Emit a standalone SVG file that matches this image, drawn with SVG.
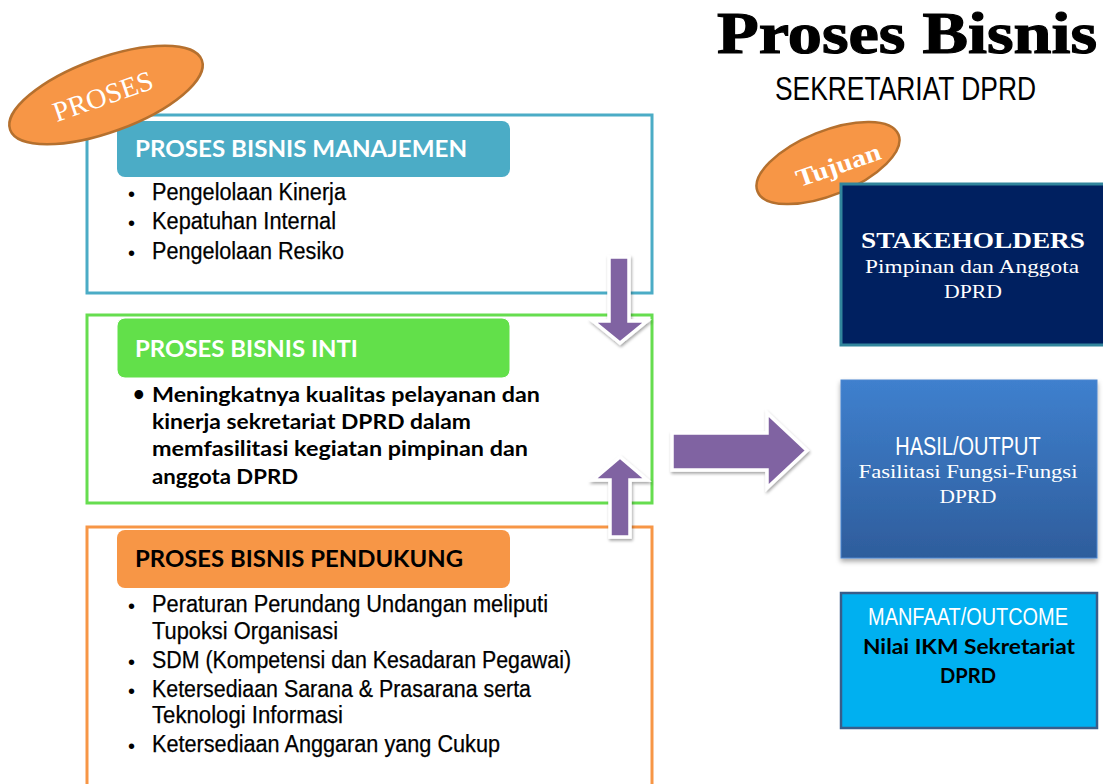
<svg xmlns="http://www.w3.org/2000/svg" width="1103" height="784" viewBox="0 0 1103 784">
  <defs>
    <style>
      .frame { fill: #ffffff; stroke-width: 3; }
      .hdr-txt { font-family: Lato, "Liberation Sans", sans-serif; font-weight: 700; font-size: 22px; }
      .item { font-family: "Liberation Sans", Arial, sans-serif; font-size: 23px; fill: #000000; stroke: #000000; stroke-width: 0.25; }
      .dot { font-family: "Liberation Sans", Arial, sans-serif; font-size: 20px; fill: #000000; }
      .core { font-family: Lato, "Liberation Sans", sans-serif; font-weight: 700; font-size: 20px; fill: #000000; }
      .serif { font-family: "Liberation Serif", "Times New Roman", serif; }
      .cond { font-family: "Liberation Sans", Arial, sans-serif; }
      .arrow { fill: #8064A2; stroke: #ffffff; stroke-width: 3.5; stroke-linejoin: miter; filter: url(#shadow); }
      .tag { fill: #F79646; stroke: #B5702E; stroke-width: 2.5; }
    </style>
    <filter id="shadow" x="-30%" y="-30%" width="160%" height="160%">
      <feDropShadow dx="1" dy="2" stdDeviation="1.6" flood-color="#000000" flood-opacity="0.35"/>
    </filter>
    <filter id="boxShadow" x="-10%" y="-10%" width="120%" height="125%">
      <feDropShadow dx="0" dy="3" stdDeviation="2.5" flood-color="#000000" flood-opacity="0.35"/>
    </filter>
    <linearGradient id="blueGrad" x1="0" y1="0" x2="0" y2="1">
      <stop offset="0" stop-color="#3F80CE"/>
      <stop offset="1" stop-color="#2E5D9C"/>
    </linearGradient>
  </defs>

  <rect width="1103" height="784" fill="#ffffff"/>

  <!-- Title -->
  <g id="title">
    <text class="serif" x="717" y="53" font-size="60" font-weight="700" stroke="#000" stroke-width="1.2" textLength="380" lengthAdjust="spacingAndGlyphs">Proses Bisnis</text>
    <text class="cond" font-size="33" transform="translate(775 100) scale(0.8 1)">SEKRETARIAT DPRD</text>
  </g>

  <!-- Management processes -->
  <g id="proses-manajemen">
    <rect class="frame" x="87" y="115" width="565" height="178" stroke="#4BACC6"/>
    <rect x="117" y="121" width="393" height="56" rx="8" fill="#4BACC6"/>
    <text class="hdr-txt" x="135" y="157" fill="#ffffff" textLength="332" lengthAdjust="spacingAndGlyphs">PROSES BISNIS MANAJEMEN</text>
    <text class="dot" x="128" y="201">•</text>
    <text class="item" x="152" y="200" textLength="194" lengthAdjust="spacingAndGlyphs">Pengelolaan Kinerja</text>
    <text class="dot" x="128" y="230">•</text>
    <text class="item" x="152" y="229" textLength="184" lengthAdjust="spacingAndGlyphs">Kepatuhan Internal</text>
    <text class="dot" x="128" y="260">•</text>
    <text class="item" x="152" y="259" textLength="192" lengthAdjust="spacingAndGlyphs">Pengelolaan Resiko</text>
  </g>

  <!-- Core processes -->
  <g id="proses-inti">
    <rect class="frame" x="87" y="315" width="565" height="188" stroke="#66DD4F"/>
    <rect x="117" y="318" width="393" height="60" rx="8" fill="#62E04A" stroke="#ffffff" stroke-width="1"/>
    <text class="hdr-txt" x="135" y="357" fill="#ffffff" textLength="223" lengthAdjust="spacingAndGlyphs">PROSES BISNIS INTI</text>
    <text class="core" x="133" y="401" font-size="18">•</text>
    <text class="core" x="152" y="402" textLength="388" lengthAdjust="spacingAndGlyphs">Meningkatnya kualitas pelayanan dan</text>
    <text class="core" x="152" y="429" textLength="319" lengthAdjust="spacingAndGlyphs">kinerja sekretariat DPRD dalam</text>
    <text class="core" x="152" y="456" textLength="376" lengthAdjust="spacingAndGlyphs">memfasilitasi kegiatan pimpinan dan</text>
    <text class="core" x="152" y="484" textLength="146" lengthAdjust="spacingAndGlyphs">anggota DPRD</text>
  </g>

  <!-- Supporting processes -->
  <g id="proses-pendukung">
    <rect class="frame" x="87" y="527" width="565" height="275" stroke="#F79646"/>
    <rect x="117" y="530" width="393" height="58" rx="8" fill="#F79646"/>
    <text class="hdr-txt" x="135" y="567" fill="#000000" textLength="328" lengthAdjust="spacingAndGlyphs">PROSES BISNIS PENDUKUNG</text>
    <text class="dot" x="128" y="613">•</text>
    <text class="item" x="152" y="612" textLength="396" lengthAdjust="spacingAndGlyphs">Peraturan Perundang Undangan meliputi</text>
    <text class="item" x="152" y="639" textLength="186" lengthAdjust="spacingAndGlyphs">Tupoksi Organisasi</text>
    <text class="dot" x="128" y="669">•</text>
    <text class="item" x="152" y="668" textLength="419" lengthAdjust="spacingAndGlyphs">SDM (Kompetensi dan Kesadaran Pegawai)</text>
    <text class="dot" x="128" y="698">•</text>
    <text class="item" x="152" y="697" textLength="379" lengthAdjust="spacingAndGlyphs">Ketersediaan Sarana &amp; Prasarana serta</text>
    <text class="item" x="152" y="723" textLength="191" lengthAdjust="spacingAndGlyphs">Teknologi Informasi</text>
    <text class="dot" x="128" y="753">•</text>
    <text class="item" x="152" y="752" textLength="348" lengthAdjust="spacingAndGlyphs">Ketersediaan Anggaran yang Cukup</text>
  </g>

  <!-- Label tag: PROSES -->
  <g id="tag-proses">
    <ellipse class="tag" cx="106" cy="95" rx="102" ry="37" transform="rotate(-20 106 95)"/>
    <text class="serif" x="106" y="105" font-size="28" fill="#ffffff" text-anchor="middle" textLength="104" lengthAdjust="spacingAndGlyphs" transform="rotate(-19 106 105)">PROSES</text>
  </g>

  <!-- Label tag: Tujuan -->
  <g id="tag-tujuan">
    <ellipse class="tag" cx="828" cy="163" rx="76" ry="32" transform="rotate(-22 828 163)"/>
    <text class="serif" x="841" y="173" font-size="25" font-weight="700" fill="#ffffff" text-anchor="middle" textLength="88" lengthAdjust="spacingAndGlyphs" transform="rotate(-19 841 173)">Tujuan</text>
  </g>

  <!-- Goal panels -->
  <g id="stakeholders">
    <rect x="841" y="184" width="270" height="161" fill="#002060" stroke="#31859C" stroke-width="3"/>
    <text class="serif" x="973" y="248" font-size="24" font-weight="700" fill="#ffffff" text-anchor="middle" textLength="224" lengthAdjust="spacingAndGlyphs">STAKEHOLDERS</text>
    <text class="serif" x="972" y="273" font-size="19" fill="#ffffff" text-anchor="middle" textLength="214" lengthAdjust="spacingAndGlyphs">Pimpinan dan Anggota</text>
    <text class="serif" x="973" y="298" font-size="19" fill="#ffffff" text-anchor="middle" textLength="58" lengthAdjust="spacingAndGlyphs">DPRD</text>
  </g>

  <g id="hasil-output">
    <rect x="841" y="380" width="256" height="178" fill="url(#blueGrad)" stroke="#4A86CF" stroke-width="1" filter="url(#boxShadow)"/>
    <text class="cond" font-size="25" fill="#ffffff" text-anchor="middle" transform="translate(968 455) scale(0.8 1)">HASIL/OUTPUT</text>
    <text class="serif" x="968" y="478" font-size="18" fill="#ffffff" text-anchor="middle" textLength="219" lengthAdjust="spacingAndGlyphs">Fasilitasi Fungsi-Fungsi</text>
    <text class="serif" x="968" y="503" font-size="18" fill="#ffffff" text-anchor="middle" textLength="57" lengthAdjust="spacingAndGlyphs">DPRD</text>
  </g>

  <g id="manfaat-outcome">
    <rect x="841" y="593" width="256" height="135" fill="#00B0F0" stroke="#385D8A" stroke-width="2.5"/>
    <text class="cond" font-size="24" fill="#ffffff" text-anchor="middle" transform="translate(968 625) scale(0.83 1)">MANFAAT/OUTCOME</text>
    <text x="969" y="654" font-family="Lato, 'Liberation Sans', sans-serif" font-size="21" font-weight="700" fill="#000000" text-anchor="middle" textLength="212" lengthAdjust="spacingAndGlyphs">Nilai IKM Sekretariat</text>
    <text x="968" y="683" font-family="Lato, 'Liberation Sans', sans-serif" font-size="21" font-weight="700" fill="#000000" text-anchor="middle" textLength="56" lengthAdjust="spacingAndGlyphs">DPRD</text>
  </g>

  <!-- Block arrows between process groups and toward goals -->
  <g id="connectors">
    <polygon class="arrow" points="609,257 629,257 629,321 647,321 620,343 593,321 609,321"/>
    <polygon class="arrow" points="620,457 647,480 630,480 630,537 610,537 610,480 593,480"/>
    <polygon class="arrow" points="672,433 767,433 767,413 807,450.5 767,488 767,470 672,470"/>
  </g>
</svg>
